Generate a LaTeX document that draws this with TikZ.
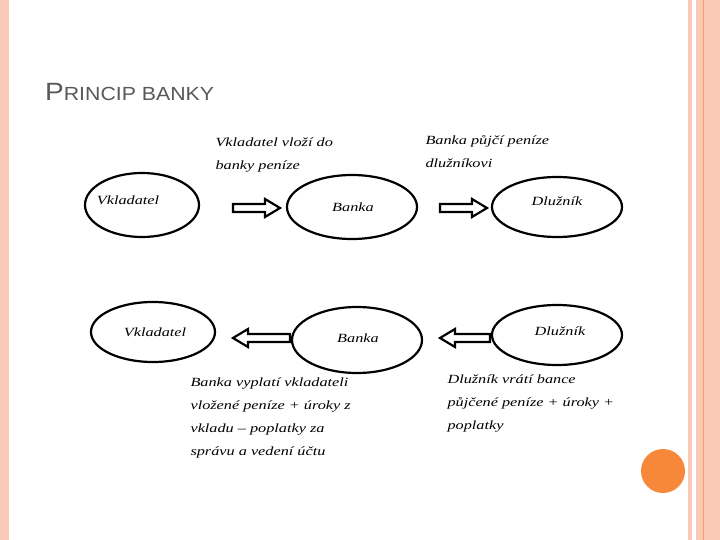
\documentclass[tikz,border=0pt]{standalone}
\usepackage{fontspec}
\setmainfont{Liberation Serif}
\newfontfamily\titlefont[FakeStretch=1.12]{Liberation Sans}
\newfontfamily\handfont[FakeStretch=1.3]{Liberation Serif}
\definecolor{band}{HTML}{FAC9B6}
\definecolor{dot}{HTML}{F7883A}
\begin{document}
\begin{tikzpicture}[x=1pt,y=-1pt,
  lab/.style={font=\handfont\itshape\fontsize{12.5}{15}\selectfont},
  note/.style={font=\handfont\itshape\fontsize{12.5}{23}\selectfont,align=left,anchor=north west},
  blk/.style={draw,line width=2.2pt,line join=miter}]
\fill[white] (0,0) rectangle (720,540);
\useasboundingbox (0,0) rectangle (720,540);
\fill[band] (0,0) rectangle (9,540);
\fill[band] (688,0) rectangle (720,540);
\fill[white] (692,0) rectangle (696,540);
\draw[orange!70!red!60!white,line width=1pt] (703,0) -- (703,540);
\fill[dot] (663,471) circle (22);
\node[anchor=base west,inner sep=0pt,text=black!65,font=\titlefont\fontsize{25}{28}\selectfont] (t) at (45,101) {P\fontsize{19}{22}\selectfont RINCIP BANKY};
% ellipses
\draw[line width=2.2pt] (142,205) ellipse (57 and 32);
\node[lab] (v1) at (128,200) {Vkladatel};
\draw[line width=2.2pt] (352,207) ellipse (65 and 32);
\node[lab] (b1) at (353,207) {Banka};
\draw[line width=2.2pt] (557,207) ellipse (65 and 30);
\node[lab] (d1) at (557,201) {Dlužník};
\draw[line width=2.2pt] (153,332) ellipse (62 and 30);
\node[lab] (v2) at (155,332) {Vkladatel};
\draw[line width=2.2pt] (357,340) ellipse (65 and 33);
\node[lab] (b2) at (358,338) {Banka};
\draw[line width=2.2pt] (557,335) ellipse (65 and 30);
\node[lab] (d2) at (560,331) {Dlužník};
% block arrows
\foreach \a/\b/\y in {233/280/208, 440/487/208}{
 \draw[blk] (\a,\y-4) -- (\b-15,\y-4) -- (\b-15,\y-9) -- (\b,\y) -- (\b-15,\y+9) -- (\b-15,\y+4) -- (\a,\y+4) -- cycle;}
\foreach \a/\b/\y in {233/290/338, 440/490/338}{
 \draw[blk] (\b,\y-4) -- (\a+15,\y-4) -- (\a+15,\y-9) -- (\a,\y) -- (\a+15,\y+9) -- (\a+15,\y+4) -- (\b,\y+4) -- cycle;}
\node[note] (n1) at (212,134) {Vkladatel vloží do\\banky peníze};
\node[note] (n2) at (422,132) {Banka půjčí peníze\\dlužníkovi};
\node[note] (n3) at (187,374) {Banka vyplatí vkladateli\\vložené peníze + úroky z\\vkladu – poplatky za\\správu a vedení účtu};
\node[note] (n4) at (444,371) {Dlužník vrátí bance\\půjčené peníze + úroky +\\poplatky};
\end{tikzpicture}
\end{document}
